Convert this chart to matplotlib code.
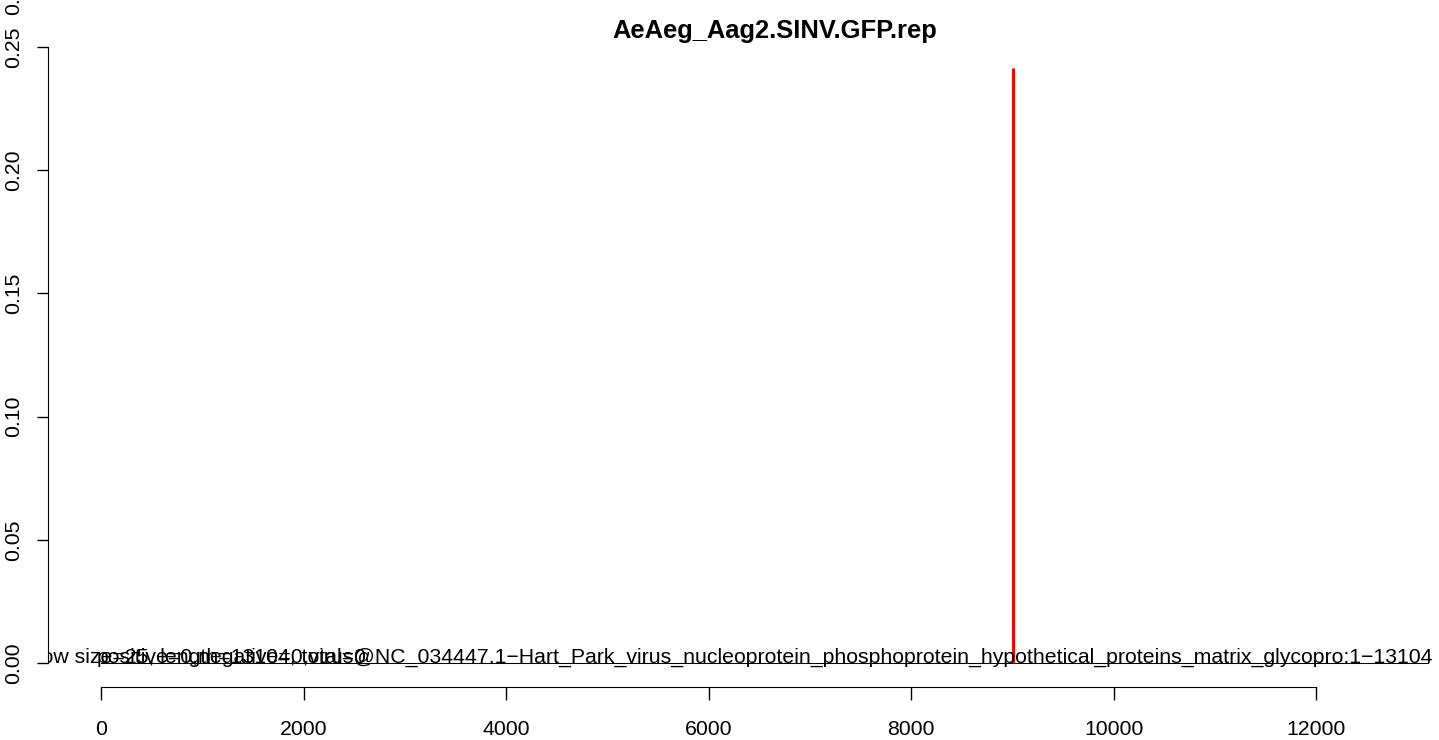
import matplotlib
matplotlib.use("Agg")
import matplotlib.pyplot as plt
from matplotlib import transforms

plt.rcParams['font.family'] = ['Liberation Sans', 'DejaVu Sans']

title = "AeAeg_Aag2.SINV.GFP.rep"
genome_len = 13104
peak_pos = [9009]
peak_val = [0.2415]
x_ticks = [0, 2000, 4000, 6000, 8000, 10000, 12000]
y_ticks = [0.00, 0.05, 0.10, 0.15, 0.20, 0.25]
info_text = "window size=25, length=13104, total=0"
seq_text = ("positive=0,negative=0,virus@NC_034447.1\u2212Hart_Park_virus_nucleoprotein_"
            "phosphoprotein_hypothetical_proteins_matrix_glycopro:1\u221213104")

FS = 15.3
W, H = 1439, 740
fig = plt.figure(figsize=(W / 100, H / 100), dpi=100)

# plot region in pixels (R style, extends past the right edge)
left_px, right_px = 48, 1481
bottom_px, top_px = 687, 10
ax = fig.add_axes([left_px / W, 1 - bottom_px / H,
                   (right_px - left_px) / W, (bottom_px - top_px) / H])
pad = 0.04 * genome_len
ax.set_xlim(-pad, genome_len + pad)
px_per_unit = 2464.0
ax.set_ylim(-(bottom_px - 663) / px_per_unit, (663 - top_px) / px_per_unit)

# zero baseline over the whole genome, then the coverage spike
ax.plot([0, genome_len], [0, 0], color='black', lw=0.75)
ax.vlines(peak_pos, 0, peak_val, color='red', lw=2.2)

# window info starts left of the plot region and gets clipped by it
info_tr = transforms.blended_transform_factory(fig.transFigure, ax.transData)
t = ax.text(-2 / W, 0, info_text, transform=info_tr, ha='left', va='baseline',
            fontsize=FS, clip_on=True)
t.set_clip_box(ax.bbox)
t.set_clip_path(None)
ax.text(genome_len / 2, 0, seq_text, ha='center', va='baseline', fontsize=FS)

for s in ['top', 'right']:
    ax.spines[s].set_visible(False)
ax.spines['left'].set_bounds(0, 0.25)
ax.spines['bottom'].set_bounds(0, 12000)
ax.set_xticks(x_ticks)
ax.set_xticklabels([str(v) for v in x_ticks])
ax.set_yticks(y_ticks)
ax.set_yticklabels(["%.2f" % v for v in y_ticks], rotation=90, va='center')
ax.tick_params(axis='x', length=9, width=1, pad=15, labelsize=FS)
ax.tick_params(axis='y', length=8, width=1, pad=10, labelsize=FS)

# the next y label sits mostly off the top of the canvas
fig.text(14 / W, 1 + 6 / H, "0.30", rotation=90, ha='center', va='center', fontsize=FS)

fig.text(775 / W, 1 - 31 / H, title, ha='center', va='center',
         fontsize=18.4, fontweight='bold')

fig.savefig("out.png", dpi=100)
